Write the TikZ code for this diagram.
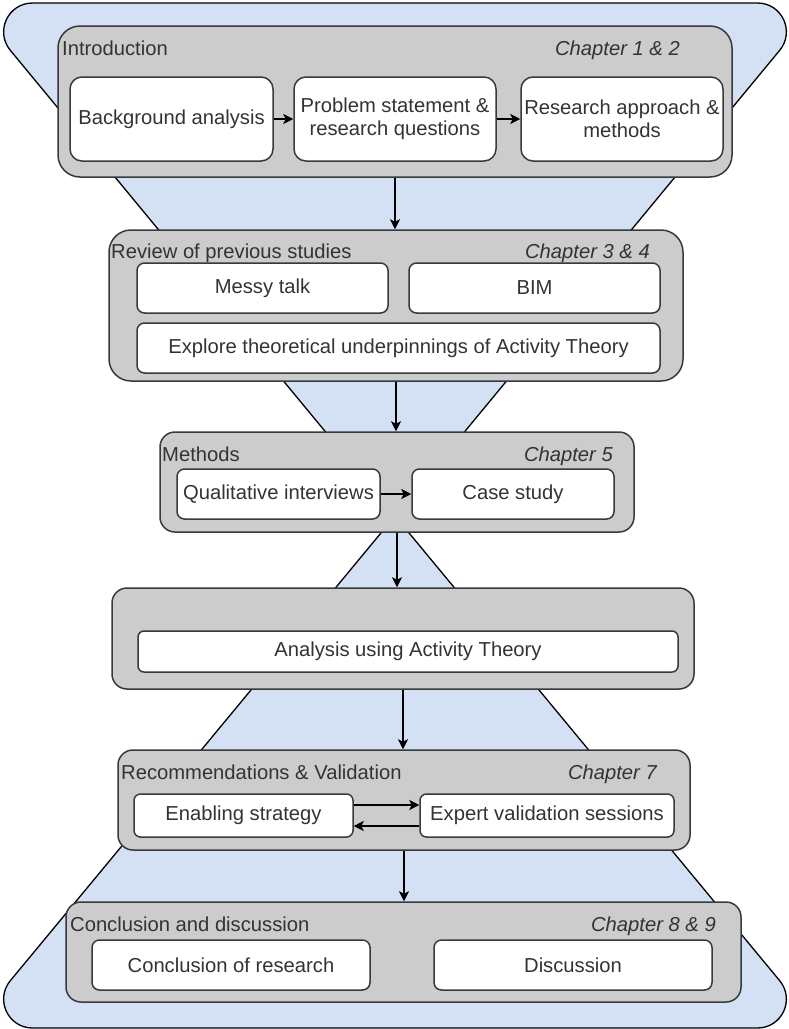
\documentclass[tikz,border=0pt]{standalone}
\usepackage{fontspec}
\setmainfont{Liberation Sans}
\usetikzlibrary{arrows.meta}
\definecolor{hourglass}{HTML}{D4E1F5}
\definecolor{panelgray}{HTML}{CCCCCC}
\definecolor{edge}{HTML}{36393D}
\definecolor{ink}{HTML}{333333}

\begin{document}
\begin{tikzpicture}[x=1pt,y=-1pt,
  font=\fontsize{20.2}{23.4}\selectfont,
  glass/.style={fill=hourglass, draw=black, line width=1.3pt},
  panel/.style={draw=edge, fill=panelgray, line width=1.5pt, inner sep=0pt},
  step box/.style={draw=edge, fill=white, line width=1.5pt, inner sep=0pt,
    text=ink, align=center},
  heading/.style={inner sep=0pt, text=ink},
  chapter/.style={inner sep=0pt, text=ink, font=\fontsize{20.2}{23.4}\selectfont\itshape},
  flow/.style={line width=1.5pt, -{Stealth[length=10pt,width=10pt,inset=2.5pt]}}
]
\path[use as bounding box] (0,0) rectangle (788,1029);

% hourglass backdrop: two triangles meeting behind the Methods panel
\path[glass] (395,516) -- (10.3,50.3) .. controls (-5.3,31.4) and (8.1,3) .. (32.6,3)
  -- (757.4,3) .. controls (781.9,3) and (795.3,31.4) .. (779.7,50.3) -- cycle;
\path[glass] (395,516) -- (10.3,980.7) .. controls (-5.3,999.6) and (8.1,1028) .. (32.6,1028)
  -- (757.4,1028) .. controls (781.9,1028) and (795.3,999.6) .. (779.7,980.7) -- cycle;

% phase panels
\node[panel, minimum width=674pt, minimum height=151pt, rounded corners=22pt] (intro)    at (395,101.5) {};
\node[panel, minimum width=574pt, minimum height=151pt, rounded corners=22pt] (review)   at (396,305.5) {};
\node[panel, minimum width=474pt, minimum height=100pt, rounded corners=15pt] (methods)  at (397,482) {};
\node[panel, minimum width=582pt, minimum height=101pt, rounded corners=15pt] (analysis) at (403,638.5) {};
\node[panel, minimum width=572pt, minimum height=100pt, rounded corners=15pt] (recval)   at (404,800) {};
\node[panel, minimum width=675pt, minimum height=100pt, rounded corners=15pt] (concl)    at (403.5,952) {};

% panel headings
\node[heading, anchor=base west] (introT)   at (62,55)  {Introduction};
\node[chapter, anchor=base east] (introC)   at (680,55) {Chapter 1 \& 2};
\node[heading, anchor=base west] (reviewT)  at (111,258) {Review of previous studies};
\node[chapter, anchor=base east] (reviewC)  at (650,258) {Chapter 3 \& 4};
\node[heading, anchor=base west] (methodsT) at (162,461) {Methods};
\node[chapter, anchor=base east] (methodsC) at (613,461) {Chapter 5};
\node[heading, anchor=base west] (recvalT)  at (121,779) {Recommendations \& Validation};
\node[chapter, anchor=base east] (recvalC)  at (657,779) {Chapter 7};
\node[heading, anchor=base west] (conclT)   at (70,931)  {Conclusion and discussion};
\node[chapter, anchor=base east] (conclC)   at (716,931) {Chapter 8 \& 9};

% steps inside the panels
\node[step box, minimum width=203pt, minimum height=84pt, rounded corners=12pt] (ba) at (171.5,119) {Background analysis};
\node[step box, minimum width=202pt, minimum height=84pt, rounded corners=12pt] (ps) at (395,119) {Problem statement \&\\research questions};
\node[step box, minimum width=202pt, minimum height=84pt, rounded corners=12pt] (ra) at (622,119) {Research approach \&\\methods};
\node[step box, minimum width=251pt, minimum height=50pt, rounded corners=7.5pt] (messy) at (262.5,288) {Messy talk};
\node[step box, minimum width=251pt, minimum height=50pt, rounded corners=7.5pt] (bim) at (534.5,288) {BIM};
\node[step box, minimum width=523pt, minimum height=50pt, rounded corners=7.5pt] (explore) at (398.5,348) {Explore theoretical underpinnings of Activity Theory};
\node[step box, minimum width=203pt, minimum height=50pt, rounded corners=7.5pt] (qi) at (278.5,494) {Qualitative interviews};
\node[step box, minimum width=202pt, minimum height=50pt, rounded corners=7.5pt] (cs) at (513,494) {Case study};
\node[step box, minimum width=540pt, minimum height=41pt, rounded corners=6pt] (aat) at (408,651.5) {Analysis using Activity Theory};
\node[step box, minimum width=219pt, minimum height=43pt, rounded corners=6.5pt] (es) at (243.5,815.5) {Enabling strategy};
\node[step box, minimum width=254pt, minimum height=43pt, rounded corners=6.5pt] (ev) at (547,815.5) {Expert validation sessions};
\node[step box, minimum width=278pt, minimum height=50pt, rounded corners=7.5pt] (cr) at (231,965) {Conclusion of research};
\node[step box, minimum width=278pt, minimum height=50pt, rounded corners=7.5pt] (disc) at (573,965) {Discussion};

% connectors
\draw[flow] (ba) -- (ps);
\draw[flow] (ps) -- (ra);
\draw[flow] (qi) -- (cs);
\draw[flow] ([yshift=10.5pt]es.east) -- ([yshift=10.5pt]ev.west);
\draw[flow] ([yshift=-10.5pt]ev.west) -- ([yshift=-10.5pt]es.east);
\draw[flow] (intro.south) -- (intro.south |- review.north);
\draw[flow] (review.south) -- (review.south |- methods.north);
\draw[flow] (methods.south) -- (methods.south |- analysis.north);
\draw[flow] (analysis.south) -- (analysis.south |- recval.north);
\draw[flow] (recval.south) -- (recval.south |- concl.north);
\end{tikzpicture}
\end{document}
